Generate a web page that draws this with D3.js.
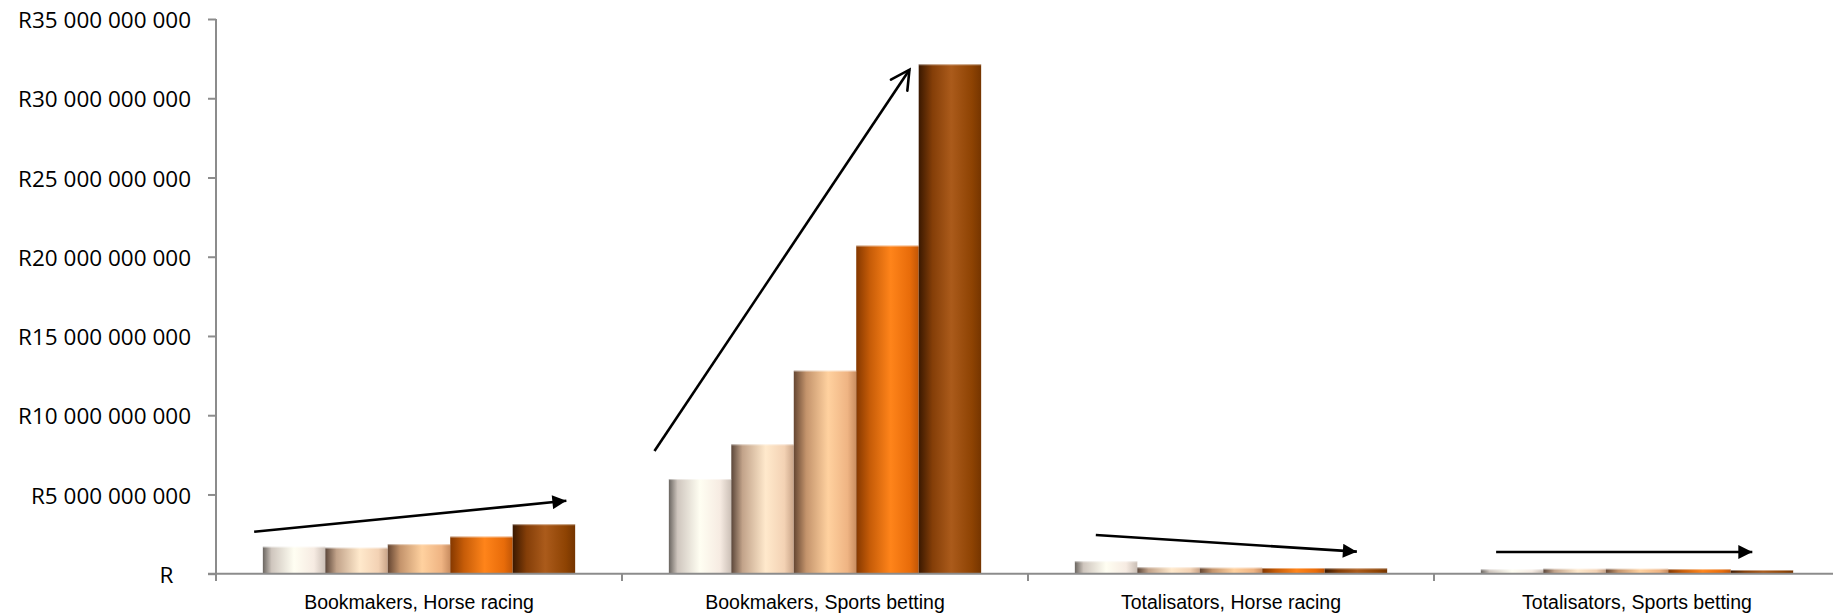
<!DOCTYPE html>
<html>
<head>
<meta charset="utf-8">
<script src="https://cdn.jsdelivr.net/npm/d3@7"></script>
<style>
  html, body { margin: 0; padding: 0; background: #ffffff; }
  svg { display: block; }
</style>
</head>
<body>
<script>
// ---------- data ----------
const categories = ["Bookmakers, Horse racing", "Bookmakers, Sports betting", "Totalisators, Horse racing", "Totalisators, Sports betting"];
const seriesNames = ["Year 1", "Year 2", "Year 3", "Year 4", "Year 5"];
const year1 = [1.70e9, 5.97e9, 0.78e9, 0.27e9];
const year2 = [1.64e9, 8.16e9, 0.40e9, 0.31e9];
const year3 = [1.86e9, 12.81e9, 0.38e9, 0.31e9];
const year4 = [2.34e9, 20.70e9, 0.36e9, 0.29e9];
const year5 = [3.12e9, 32.14e9, 0.34e9, 0.23e9];
const seriesValues = [year1, year2, year3, year4, year5];
const yTicks = [0, 5e9, 10e9, 15e9, 20e9, 25e9, 30e9, 35e9];
// trend arrows: category, start/end position within category (fraction), start/end value
const arrowCategory = ["Bookmakers, Horse racing", "Bookmakers, Sports betting", "Totalisators, Horse racing", "Totalisators, Sports betting"];
const arrowFrom = [[0.094, 2.65e9], [0.080, 7.74e9], [0.167, 2.44e9], [0.153, 1.37e9]];
const arrowTo = [[0.863, 4.60e9], [0.708, 31.80e9], [0.810, 1.39e9], [0.784, 1.37e9]];
const arrowHead = ["filled", "open", "filled", "filled"];

// ---------- styles ----------
const W = 1833, H = 616;
const gradStops = [
  [["0%", "#6a6560"], ["14%", "#cfc6be"], ["50%", "#fffef2"], ["82%", "#f6ebe2"], ["100%", "#cbbfb6"]],
  [["0%", "#5c473a"], ["18%", "#c2a38a"], ["55%", "#ffe9cc"], ["85%", "#f3d2b4"], ["100%", "#c9a488"]],
  [["0%", "#654632"], ["20%", "#c4946c"], ["55%", "#ffd19f"], ["86%", "#efb483"], ["100%", "#c98d60"]],
  [["0%", "#853800"], ["22%", "#c65c08"], ["55%", "#ff841a"], ["86%", "#e86c0a"], ["100%", "#c25606"]],
  [["0%", "#3a1800"], ["22%", "#843e08"], ["52%", "#ab5b1b"], ["85%", "#8e4303"], ["100%", "#753500"]]
];

const svg = d3.select("body").append("svg").attr("width", W).attr("height", H);
const defs = svg.append("defs");
gradStops.forEach((stops, i) => {
  const g = defs.append("linearGradient").attr("id", "g" + i)
    .attr("x1", "0%").attr("x2", "100%").attr("y1", "0%").attr("y2", "0%");
  stops.forEach(s => g.append("stop").attr("offset", s[0]).attr("stop-color", s[1]));
});
defs.append("marker").attr("id", "headFilled")
  .attr("viewBox", "0 0 10 10").attr("refX", 10).attr("refY", 5)
  .attr("markerUnits", "userSpaceOnUse").attr("markerWidth", 16).attr("markerHeight", 14)
  .attr("orient", "auto")
  .append("path").attr("d", "M0,0 L10,5 L0,10 Z").attr("fill", "#000");

// ---------- scales ----------
const x0 = d3.scaleBand().domain(categories).range([216, 216 + 4 * 406]).paddingInner(0).paddingOuter(0);
const x1 = d3.scaleBand().domain(seriesNames).range([0, x0.bandwidth()]).paddingInner(0).paddingOuter(0.75);
const y = d3.scaleLinear().domain([0, 35e9]).range([573.7, 19]);

// ---------- bars ----------
const groups = svg.append("g").selectAll("g").data(categories).join("g")
  .attr("transform", d => `translate(${x0(d)},0)`);
groups.selectAll("rect.bar")
  .data((c, ci) => seriesNames.map((s, si) => ({ s, si, v: seriesValues[si][ci] })))
  .join("rect").attr("class", "bar")
  .attr("x", d => x1(d.s))
  .attr("width", x1.bandwidth())
  .attr("y", d => y(d.v))
  .attr("height", d => y(0) - y(d.v))
  .attr("fill", d => `url(#g${d.si})`);
groups.selectAll("line.hl")
  .data((c, ci) => seriesNames.map((s, si) => ({ s, si, v: seriesValues[si][ci] })))
  .join("line").attr("class", "hl")
  .attr("x1", d => x1(d.s)).attr("x2", d => x1(d.s) + x1.bandwidth())
  .attr("y1", d => y(d.v) + 0.5).attr("y2", d => y(d.v) + 0.5)
  .attr("stroke", "#ffffff").attr("stroke-opacity", 0.45).attr("stroke-width", 1);

// ---------- y axis ----------
const fmt = v => v === 0 ? "R" : "R" + d3.format(",")(v).replace(/,/g, " ");
const yAxis = svg.append("g").attr("transform", "translate(216,0)")
  .call(d3.axisLeft(y).tickValues(yTicks).tickSize(8).tickPadding(17).tickFormat(fmt));
yAxis.select(".domain").remove();
yAxis.selectAll(".tick line").attr("stroke", "#8c8c8c").attr("stroke-width", 2);
yAxis.selectAll(".tick text")
  .attr("font-family", "'Open Sans', sans-serif").attr("font-size", 22.5).attr("fill", "#000")
  .attr("dy", null).attr("y", 8.6)
  .attr("dx", d => d === 0 ? -17.5 : 0);
svg.append("line").attr("x1", 216).attr("x2", 216).attr("y1", y(35e9)).attr("y2", y(0) + 7.3)
  .attr("stroke", "#8c8c8c").attr("stroke-width", 2);

// ---------- x axis ----------
svg.append("line").attr("x1", 208).attr("x2", W).attr("y1", y(0)).attr("y2", y(0))
  .attr("stroke", "#8c8c8c").attr("stroke-width", 2);
svg.append("g").selectAll("line").data(categories.slice(1)).join("line")
  .attr("x1", d => x0(d)).attr("x2", d => x0(d))
  .attr("y1", y(0)).attr("y2", y(0) + 7.3)
  .attr("stroke", "#8c8c8c").attr("stroke-width", 2);
const xAxis = svg.append("g").attr("transform", `translate(0,${y(0)})`)
  .call(d3.axisBottom(x0).tickSize(0).tickPadding(0));
xAxis.select(".domain").remove();
xAxis.selectAll(".tick text")
  .attr("font-family", "'Liberation Sans', Arial, sans-serif").attr("font-size", 19.5).attr("fill", "#000")
  .attr("dy", null).attr("y", 35.2);

// ---------- arrows ----------
const ax = (c, f) => x0(c) + f * x0.bandwidth();
arrowCategory.forEach((c, i) => {
  const xs = ax(c, arrowFrom[i][0]), ys = y(arrowFrom[i][1]);
  const xe = ax(c, arrowTo[i][0]), ye = y(arrowTo[i][1]);
  const line = svg.append("line")
    .attr("x1", xs).attr("y1", ys).attr("x2", xe).attr("y2", ye)
    .attr("stroke", "#000").attr("stroke-width", 2.6);
  if (arrowHead[i] === "filled") {
    line.attr("marker-end", "url(#headFilled)");
  } else {
    const ang = Math.atan2(ys - ye, xs - xe);
    const L = 21, a = 28 * Math.PI / 180;
    const p = [[xe + L * Math.cos(ang + a), ye + L * Math.sin(ang + a)], [xe, ye], [xe + L * Math.cos(ang - a), ye + L * Math.sin(ang - a)]];
    svg.append("path").attr("d", d3.line()(p))
      .attr("fill", "none").attr("stroke", "#000").attr("stroke-width", 2.6)
      .attr("stroke-linejoin", "miter").attr("stroke-linecap", "round");
  }
});
</script>
</body>
</html>
